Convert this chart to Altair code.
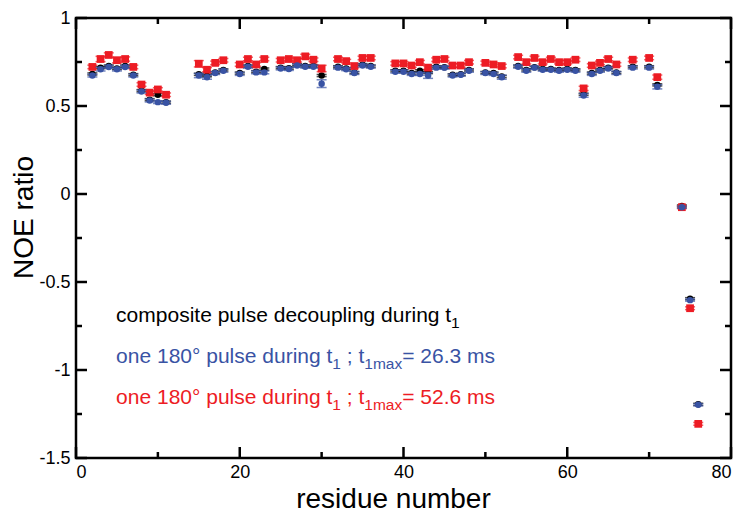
import altair as alt
import pandas as pd

# ---------------- data ----------------
residues = [2, 3, 4, 5, 6, 7, 8, 9, 10, 11,
            15, 16, 17, 18, 20, 21, 22, 23, 25, 26, 27, 28, 29, 30,
            32, 33, 34, 35, 36,
            39, 40, 41, 42, 43, 44, 45, 46, 47, 48,
            50, 51, 52,
            54, 55, 56, 57, 58, 59, 60, 61, 62, 63, 64, 65, 66,
            68, 70, 71,
            74, 75, 76]

noe_red = [0.722, 0.767, 0.790, 0.760, 0.767, 0.722, 0.622, 0.576, 0.594, 0.564,
           0.740, 0.706, 0.745, 0.760, 0.736, 0.767, 0.736, 0.767, 0.760, 0.767, 0.760, 0.782, 0.763, 0.713,
           0.767, 0.755, 0.727, 0.773, 0.773,
           0.742, 0.742, 0.730, 0.749, 0.718, 0.763, 0.767, 0.730, 0.730, 0.749,
           0.745, 0.736, 0.727,
           0.778, 0.749, 0.773, 0.749, 0.767, 0.749, 0.749, 0.763, 0.600, 0.730, 0.745, 0.767, 0.736,
           0.763, 0.773, 0.664,
           -0.075, -0.649, -1.306]

noe_blue = [0.673, 0.709, 0.722, 0.709, 0.722, 0.673, 0.582, 0.531, 0.522, 0.518,
            0.673, 0.664, 0.687, 0.700, 0.682, 0.723, 0.691, 0.691, 0.713, 0.710, 0.730, 0.723, 0.723, 0.627,
            0.718, 0.709, 0.687, 0.730, 0.723,
            0.695, 0.695, 0.682, 0.682, 0.673, 0.718, 0.718, 0.673, 0.677, 0.700,
            0.687, 0.682, 0.664,
            0.723, 0.700, 0.718, 0.706, 0.706, 0.700, 0.706, 0.700, 0.560, 0.682, 0.700, 0.713, 0.687,
            0.718, 0.718, 0.609,
            -0.075, -0.603, -1.198]

noe_black = [0.682, 0.718, 0.727, 0.713, 0.727, 0.678, 0.587, 0.536, 0.564, 0.522,
             0.680, 0.672, 0.690, 0.705, 0.687, 0.727, 0.695, 0.710, 0.718, 0.715, 0.735, 0.727, 0.727, 0.673,
             0.723, 0.713, 0.690, 0.735, 0.727,
             0.700, 0.700, 0.687, 0.700, 0.690, 0.723, 0.720, 0.677, 0.680, 0.705,
             0.690, 0.687, 0.667,
             0.727, 0.705, 0.720, 0.710, 0.710, 0.705, 0.710, 0.705, 0.567, 0.687, 0.705, 0.718, 0.690,
             0.723, 0.723, 0.620,
             -0.068, -0.595, -1.195]

err_red = [0.010, 0.015, 0.012, 0.015, 0.012, 0.010, 0.010, 0.010, 0.010, 0.010,
           0.018, 0.012, 0.010, 0.010, 0.010, 0.010, 0.010, 0.010, 0.010, 0.010, 0.010, 0.012, 0.010, 0.018,
           0.010, 0.010, 0.010, 0.010, 0.010,
           0.010, 0.010, 0.010, 0.010, 0.010, 0.010, 0.010, 0.010, 0.010, 0.010,
           0.010, 0.010, 0.010,
           0.010, 0.010, 0.010, 0.010, 0.010, 0.010, 0.010, 0.010, 0.012, 0.010, 0.010, 0.010, 0.010,
           0.010, 0.010, 0.012,
           0.008, 0.008, 0.008]

err_blue = [0.008, 0.010, 0.008, 0.010, 0.008, 0.008, 0.008, 0.008, 0.008, 0.008,
            0.012, 0.012, 0.008, 0.008, 0.008, 0.008, 0.008, 0.008, 0.008, 0.008, 0.008, 0.008, 0.008, 0.022,
            0.008, 0.008, 0.008, 0.008, 0.008,
            0.008, 0.008, 0.008, 0.008, 0.016, 0.008, 0.008, 0.008, 0.008, 0.008,
            0.008, 0.008, 0.012,
            0.008, 0.008, 0.008, 0.008, 0.008, 0.008, 0.008, 0.008, 0.010, 0.008, 0.008, 0.008, 0.008,
            0.008, 0.008, 0.012,
            0.006, 0.006, 0.006]

err_black = [0.006] * len(residues)

x_major = [0, 20, 40, 60, 80]
x_minor = [10, 30, 50, 70]
y_major = [-1.5, -1, -0.5, 0, 0.5, 1]
y_minor = [-1.25, -0.75, -0.25, 0.25, 0.75]

# (text, subscript?, leading gap in em)
legend_lines = [
    ([("composite pulse decoupling during t", False, 0), ("1", True, 0)], -0.725, "black"),
    ([("one 180\u00b0 pulse during t", False, 0), ("1", True, 0), ("; t", False, 0.278),
      ("1max", True, 0), ("= 26.3 ms", False, 0)], -0.959, "blue"),
    ([("one 180\u00b0 pulse during t", False, 0), ("1", True, 0), ("; t", False, 0.278),
      ("1max", True, 0), ("= 52.6 ms", False, 0)], -1.193, "red"),
]
legend_x = 4.9

# ---------------- styling ----------------
W, H = 655, 440
FONT = "Liberation Sans"
COL = {"black": "#000000", "blue": "#3953a4", "red": "#ed1c24"}
X_SCALE = alt.Scale(domain=[0, 80], nice=False, zero=False)
Y_SCALE = alt.Scale(domain=[-1.5, 1], nice=False, zero=False)

x_axis = alt.Axis(values=x_major, ticks=False, domain=False, grid=False, labelPadding=5,
                  labelFontSize=18, title="residue number", titleFontSize=28, titlePadding=4,
                  titleX=317, titleAlign="center")
y_axis = alt.Axis(values=y_major, ticks=False, domain=False, grid=False, labelPadding=6,
                  labelFontSize=18, labelExpr="'' + datum.value", title="NOE ratio",
                  titleFontSize=28, titleX=-52, titleY=199, titleAngle=270,
                  titleAlign="center", titleBaseline="middle")


def X(field):
    return alt.X(field, type="quantitative", scale=X_SCALE, axis=x_axis)


def Y(field):
    return alt.Y(field, type="quantitative", scale=Y_SCALE, axis=y_axis)


def series_df(vals, errs):
    return pd.DataFrame({
        "res": residues,
        "v": vals,
        "lo": [v - e for v, e in zip(vals, errs)],
        "hi": [v + e for v, e in zip(vals, errs)],
    })


def series_layers(vals, errs, color, shape, size):
    df = series_df(vals, errs)
    base = alt.Chart(df)
    bars = base.mark_rule(color=color, strokeWidth=1.5).encode(x=X("res"), y=Y("lo"), y2="hi")
    cap_lo = base.mark_tick(color=color, orient="horizontal", size=10, thickness=1.5).encode(x=X("res"), y=Y("lo"))
    cap_hi = base.mark_tick(color=color, orient="horizontal", size=10, thickness=1.5).encode(x=X("res"), y=Y("hi"))
    if shape == "square":
        pts = base.mark_square(color=color, size=size, opacity=1).encode(x=X("res"), y=Y("v"))
    else:
        pts = base.mark_circle(color=color, size=size, opacity=1).encode(x=X("res"), y=Y("v"))
    return [bars, cap_lo, cap_hi, pts]


layers = []
layers += series_layers(noe_black, err_black, COL["black"], "circle", 42)
layers += series_layers(noe_red, err_red, COL["red"], "square", 60)
layers += series_layers(noe_blue, err_blue, COL["blue"], "circle", 42)

# inward ticks on all four sides
MAJ, MIN = 11, 6
xt_maj = alt.Chart(pd.DataFrame({"t": x_major}))
xt_min = alt.Chart(pd.DataFrame({"t": x_minor}))
yt_maj = alt.Chart(pd.DataFrame({"t": y_major}))
yt_min = alt.Chart(pd.DataFrame({"t": y_minor}))
for src, ln in ((xt_maj, MAJ), (xt_min, MIN)):
    layers.append(src.mark_rule(color="black", strokeWidth=2.5).encode(
        x=X("t"), y=alt.value(H), y2=alt.value(H - ln)))
    layers.append(src.mark_rule(color="black", strokeWidth=2.5).encode(
        x=X("t"), y=alt.value(0), y2=alt.value(ln)))
for src, ln in ((yt_maj, MAJ), (yt_min, MIN)):
    layers.append(src.mark_rule(color="black", strokeWidth=2.5).encode(
        y=Y("t"), x=alt.value(0), x2=alt.value(ln)))
    layers.append(src.mark_rule(color="black", strokeWidth=2.5).encode(
        y=Y("t"), x=alt.value(W), x2=alt.value(W - ln)))

# legend text with subscripts
CW = {'a': 556, 'c': 500, 'd': 556, 'e': 556, 'g': 556, 'i': 222, 'l': 222, 'm': 833,
      'n': 556, 'o': 556, 'p': 556, 'r': 333, 's': 500, 't': 278, 'u': 556, 'x': 500,
      ' ': 278, '.': 278, ';': 278, '=': 584, '\u00b0': 400}


def text_width(s, size):
    return sum(CW.get(ch, 556) for ch in s) / 1000.0 * size


MAIN_SIZE, SUB_SIZE = 21, 15.5
for segs, yv, cname in legend_lines:
    off = 0.0
    for txt, sub, gap in segs:
        size = SUB_SIZE if sub else MAIN_SIZE
        off += gap * size
        layers.append(
            alt.Chart(pd.DataFrame({"x": [legend_x], "y": [yv], "s": [txt]}))
            .mark_text(align="left", baseline="alphabetic", font=FONT, fontSize=size,
                       color=COL[cname], dx=off, dy=6 if sub else 0)
            .encode(x=X("x"), y=Y("y"), text="s:N")
        )
        off += text_width(txt, size)

chart = (
    alt.layer(*layers)
    .properties(width=W, height=H,
                padding={"left": 68, "top": 10, "right": 11, "bottom": 57},
                autosize=alt.AutoSizeParams(type="none"))
    .configure_view(stroke="black", strokeWidth=2.5)
    .configure_axis(labelFont=FONT, titleFont=FONT, labelColor="black", titleColor="black",
                    titleFontWeight="normal")
)

chart.save("out.html", embed_options={"renderer": "svg", "actions": False})
